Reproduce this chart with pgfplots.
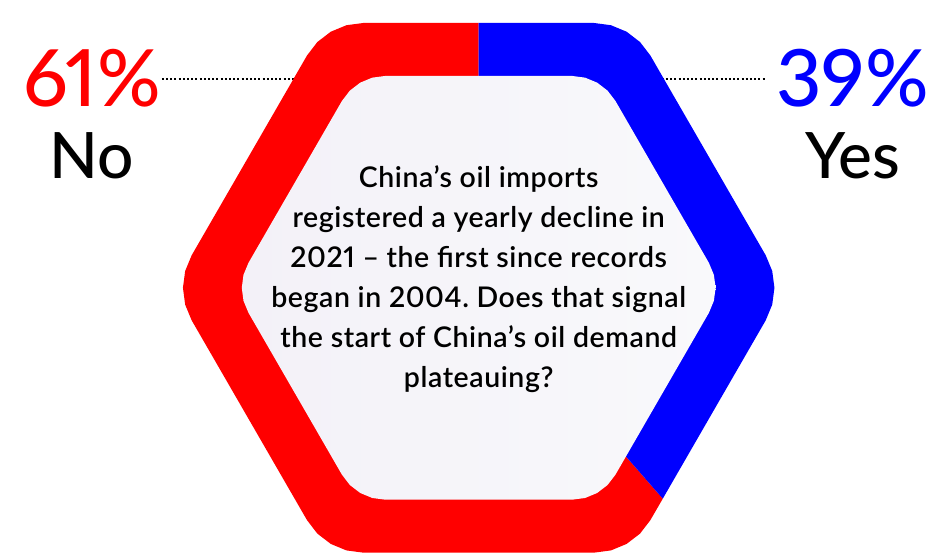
\documentclass[border=0pt]{standalone}
\usepackage{pgfplots}
\pgfplotsset{compat=1.18}
\usepackage{fontspec}
\setmainfont{Lato}[Numbers=Proportional]
\IfFontExistsTF{Lato Semibold}{\newfontfamily\semi{Lato Semibold}[Numbers=Proportional,LetterSpace=2]}{\newfontfamily\semi{Lato}[Numbers=Proportional,FakeBold=1.2,LetterSpace=2]}
\IfFontExistsTF{Lato Medium}{\newfontfamily\med{Lato Medium}[Numbers=Proportional]}{\newfontfamily\med{Lato}[Numbers=Proportional,FakeBold=0.8]}
\frenchspacing
\definecolor{pollred}{RGB}{255,0,0}
\definecolor{pollblue}{RGB}{0,0,255}
\definecolor{grayL}{RGB}{243,241,248}
\definecolor{grayR}{RGB}{249,249,251}
\begin{document}
\begin{tikzpicture}
\begin{axis}[width=932pt, height=560pt, scale only axis,
  xmin=0, xmax=932, ymin=0, ymax=560, y dir=reverse,
  hide axis, clip=false]
% frame for the bounding box
\addplot[draw=none, forget plot] coordinates {(0,0) (932,560)};
% dotted leader lines
\addplot[black, line width=2.4pt, dash pattern=on 2pt off 2.2pt] coordinates {(162,79) (300,79)};
\addplot[black, line width=2.4pt, dash pattern=on 2pt off 2.2pt] coordinates {(658,79) (767,79)};
% No (61%)
\addplot[draw=none, fill=pollred] coordinates {
(479,288) (663.2,499) (650.76,520.5) (640.43,533.96) (626.97,544.29) (611.29,550.78) (594.47,553)
(363.53,553) (346.71,550.78) (331.03,544.29) (317.57,533.96) (307.24,520.5)
(191.77,320.5) (185.28,304.82) (183.06,288) (185.28,271.18) (191.77,255.5)
(307.24,55.5) (317.57,42.04) (331.03,31.71) (346.71,25.22) (363.53,23) (479,23)} -- cycle;
% Yes (39%)
\addplot[draw=none, fill=pollblue] coordinates {
(479,288) (479,23) (594.47,23) (611.29,25.22) (626.97,31.71) (640.43,42.04) (650.76,55.5)
(766.23,255.5) (772.72,271.18) (774.94,288) (772.72,304.82) (766.23,320.5) (663.2,499)} -- cycle;
% inner panel
\addplot[draw=none, left color=grayL, right color=grayR] coordinates {
(572.53,76) (585.47,77.70) (597.53,82.70) (607.89,90.64) (615.83,101)
(709.36,263) (714.36,275.06) (716.06,288) (714.36,300.94) (709.36,313)
(615.83,475) (607.89,485.36) (597.53,493.30) (585.47,498.30) (572.53,500)
(385.47,500) (372.53,498.30) (360.47,493.30) (350.11,485.36) (342.17,475)
(248.64,313) (243.64,300.94) (241.94,288) (243.64,275.06) (248.64,263)
(342.17,101) (350.11,90.64) (360.47,82.70) (372.53,77.70) (385.47,76)} -- cycle;
% labels
\node[anchor=base, text=pollred, font=\med\fontsize{79}{79}\selectfont] at (axis cs:92,107) {61\%};
\node[anchor=base, text=black, font=\med\fontsize{64}{64}\selectfont] at (axis cs:92,179) {No};
\node[anchor=base, text=pollblue, font=\med\fontsize{79}{79}\selectfont] at (axis cs:853,107) {39\%};
\node[anchor=base, text=black, font=\med\fontsize{64}{64}\selectfont] at (axis cs:853,179) {Yes};
% question
\node[anchor=base, font=\semi\fontsize{28.5}{40}\selectfont] at (axis cs:479,188) {China’s oil imports};
\node[anchor=base, font=\semi\fontsize{28.5}{40}\selectfont] at (axis cs:479,228) {registered a yearly decline in};
\node[anchor=base, font=\semi\fontsize{28.5}{40}\selectfont] at (axis cs:479,268) {2021 – the first since records};
\node[anchor=base, font=\semi\fontsize{28.5}{40}\selectfont] at (axis cs:479,308) {began in 2004. Does that signal};
\node[anchor=base, font=\semi\fontsize{28.5}{40}\selectfont] at (axis cs:479,348) {the start of China’s oil demand};
\node[anchor=base, font=\semi\fontsize{28.5}{40}\selectfont] at (axis cs:479,388) {plateauing?};
\end{axis}
\end{tikzpicture}
\end{document}
